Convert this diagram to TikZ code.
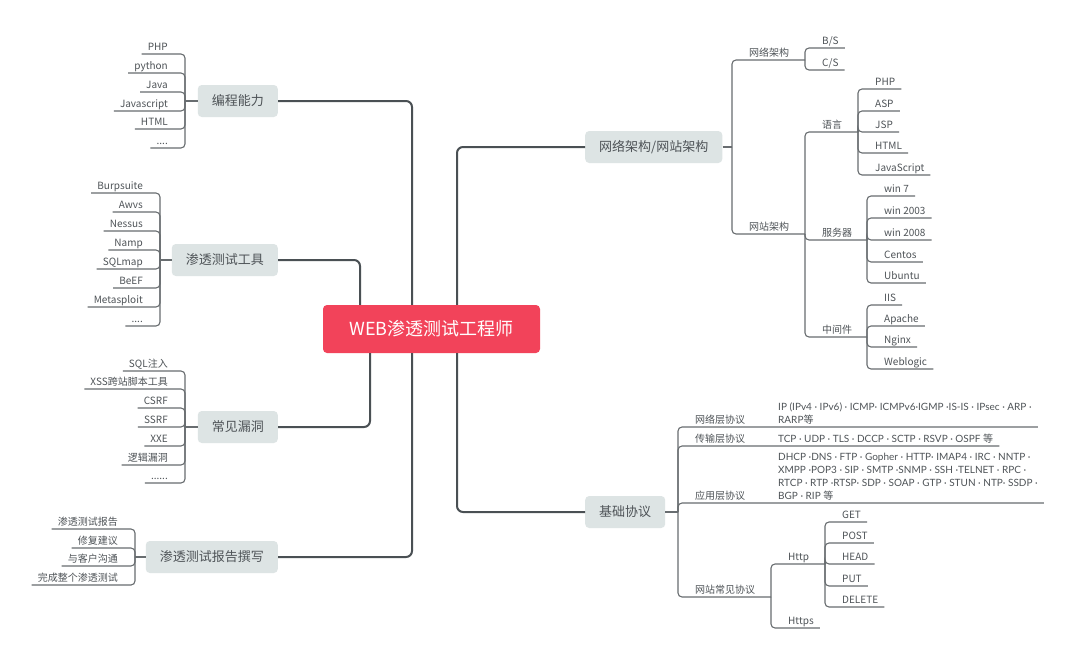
\documentclass[tikz,border=0pt]{standalone}
\usepackage{fontspec}
\setmainfont{Noto Sans CJK SC}
\newfontfamily\latfont{Lato}
\newfontfamily\cjkfont{Noto Sans CJK SC}
\definecolor{trunkgray}{HTML}{4A5054}
\definecolor{twiggray}{HTML}{686D70}
\definecolor{topicfill}{HTML}{DDE4E4}
\definecolor{rootred}{HTML}{F2435A}
\definecolor{inkgray}{HTML}{4E5357}
\newcommand\fourdots{....}
\newcommand\sixdots{......}
\newcommand\deng{{\cjkfont 等}}
\begin{document}
\begin{tikzpicture}[
    x=1pt, y=-1pt,
    trunk/.style={draw=trunkgray, line width=2pt, rounded corners=6pt},
    twig/.style={draw=twiggray, line width=1.1pt, rounded corners=4pt},
    topic/.style={fill=topicfill, rounded corners=4pt, minimum height=32pt,
        inner xsep=14pt, text=inkgray, font=\fontsize{13}{15}\selectfont},
    leafl/.style={anchor=south east, inner xsep=6pt, inner ysep=3pt,
        text depth=0pt, text=inkgray, font=\fontsize{10}{13}\selectfont},
    leafr/.style={leafl, anchor=south west},
    descr/.style={leafr, align=left, font=\latfont\fontsize{10}{13}\selectfont}]
    \fill[white] (0,0) rectangle (1080,670);
    \useasboundingbox (0,0) rectangle (1080,670);

    \node[fill=rootred, rounded corners=4pt, minimum width=217pt,
        minimum height=48pt, text=white,
        font=\fontsize{18}{20}\selectfont] (root) at (431.5,329) {WEB渗透测试工程师};

    % left side
    \node[topic, anchor=east] (code) at (278,101) {编程能力};
    \node[topic, anchor=east] (tools) at (278,260) {渗透测试工具};
    \node[topic, anchor=east] (vuln) at (278,427) {常见漏洞};
    \node[topic, anchor=east] (report) at (278,557) {渗透测试报告撰写};

    \draw[trunk] (code.east) -| ([xshift=-19.5pt]root.north);
    \draw[trunk] (tools.east) -| ([xshift=-71.5pt]root.north);
    \draw[trunk] (vuln.east) -| ([xshift=-61.5pt]root.south);
    \draw[trunk] (report.east) -| ([xshift=-19.5pt]root.south);

    \coordinate (codeJ) at (185,101);
    \draw[twig] (code.west) -- (codeJ);
    \foreach \t/\y [count=\i] in {PHP/54, python/73, Java/92, Javascript/111, HTML/129, \fourdots/148} {
        \node[leafl] (code\i) at (174,\y) {\t};
        \draw[twig] (codeJ) |- (code\i.south west);
    }

    \coordinate (toolsJ) at (160,260);
    \draw[twig] (tools.west) -- (toolsJ);
    \foreach \t/\y [count=\i] in {Burpsuite/193, Awvs/212, Nessus/231, Namp/250,
        SQLmap/269, BeEF/288, Metasploit/307, \fourdots/326} {
        \node[leafl] (tools\i) at (149,\y) {\t};
        \draw[twig] (toolsJ) |- (tools\i.south west);
    }

    \coordinate (vulnJ) at (185,427);
    \draw[twig] (vuln.west) -- (vulnJ);
    \foreach \t/\y [count=\i] in {SQL注入/371, XSS跨站脚本工具/389, CSRF/408, SSRF/427,
        XXE/446, 逻辑漏洞/465, \sixdots/483} {
        \node[leafl] (vuln\i) at (174,\y) {\t};
        \draw[twig] (vulnJ) |- (vuln\i.south west);
    }

    \coordinate (reportJ) at (135,557);
    \draw[twig] (report.west) -- (reportJ);
    \foreach \t/\y [count=\i] in {渗透测试报告/529, 修复建议/548, 与客户沟通/566, 完成整个渗透测试/585} {
        \node[leafl] (report\i) at (124,\y) {\t};
        \draw[twig] (reportJ) |- (report\i.south west);
    }

    % right side
    \node[topic, anchor=west] (arch) at (585,147) {网络架构/网站架构};
    \node[topic, anchor=west] (proto) at (585,512) {基础协议};

    \draw[trunk] (arch.west) -| ([xshift=25.5pt]root.north);
    \draw[trunk] (proto.west) -| ([xshift=25.5pt]root.south);

    \coordinate (archJ) at (732,147);
    \coordinate (netJ) at (805,60);
    \coordinate (siteJ) at (805,234);
    \draw[twig] (arch.east) -- (archJ);
    \node[leafr] (net) at (743,60) {网络架构};
    \node[leafr] (site) at (743,234) {网站架构};
    \draw[twig] (archJ) |- (netJ);
    \draw[twig] (archJ) |- (siteJ);

    \node[leafr] (bs) at (816,48) {B/S};
    \node[leafr] (cs) at (816,70) {C/S};
    \draw[twig] (netJ) |- (bs.south east);
    \draw[twig] (netJ) |- (cs.south east);

    \coordinate (langJ) at (858,132);
    \coordinate (srvJ) at (867,240);
    \coordinate (midJ) at (867,337);
    \node[leafr] (lang) at (816,132) {语言};
    \node[leafr] (srv) at (816,240) {服务器};
    \node[leafr] (mid) at (816,337) {中间件};
    \draw[twig] (siteJ) |- (langJ);
    \draw[twig] (siteJ) |- (srvJ);
    \draw[twig] (siteJ) |- (midJ);

    \foreach \t/\y [count=\i] in {PHP/89, ASP/111, JSP/132, HTML/153, JavaScript/175} {
        \node[leafr] (lang\i) at (869,\y) {\t};
        \draw[twig] (langJ) |- (lang\i.south east);
    }
    \foreach \t/\y [count=\i] in {win 7/196, win 2003/218, win 2008/240, Centos/262, Ubuntu/283} {
        \node[leafr] (srv\i) at (878,\y) {\t};
        \draw[twig] (srvJ) |- (srv\i.south east);
    }
    \foreach \t/\y [count=\i] in {IIS/305, Apache/326, Nginx/347, Weblogic/369} {
        \node[leafr] (mid\i) at (878,\y) {\t};
        \draw[twig] (midJ) |- (mid\i.south east);
    }

    \coordinate (protoJ) at (678,512);
    \draw[twig] (proto.east) -- (protoJ);
    \node[leafr] (netlayer) at (689,427) {网络层协议};
    \node[descr] (netlist) at (772,427) {IP (IPv4 · IPv6) · ICMP· ICMPv6·IGMP ·IS-IS · IPsec · ARP ·\\RARP\deng};
    \node[leafr] (translayer) at (689,446) {传输层协议};
    \node[descr] (translist) at (772,446) {TCP · UDP · TLS · DCCP · SCTP · RSVP · OSPF \deng};
    \node[leafr] (applayer) at (689,503) {应用层协议};
    \node[descr] (applist) at (772,503) {DHCP ·DNS · FTP · Gopher · HTTP· IMAP4 · IRC · NNTP ·\\
        XMPP ·POP3 · SIP · SMTP ·SNMP · SSH ·TELNET · RPC ·\\
        RTCP · RTP ·RTSP· SDP · SOAP · GTP · STUN · NTP· SSDP ·\\BGP · RIP \deng};
    \draw[twig] (protoJ) |- (netlist.south east);
    \draw[twig] (protoJ) |- (translist.south east);
    \draw[twig] (protoJ) |- (applist.south east);

    \coordinate (webJ) at (771,597);
    \coordinate (httpJ) at (825,564);
    \node[leafr] (web) at (689,597) {网站常见协议};
    \draw[twig] (protoJ) |- (webJ);
    \node[leafr] (http) at (782,564) {Http};
    \node[leafr] (https) at (782,628) {Https};
    \draw[twig] (webJ) |- (httpJ);
    \draw[twig] (webJ) |- (https.south east);
    \foreach \t/\y [count=\i] in {GET/522, POST/543, HEAD/564, PUT/586, DELETE/607} {
        \node[leafr] (http\i) at (836,\y) {\t};
        \draw[twig] (httpJ) |- (http\i.south east);
    }
\end{tikzpicture}
\end{document}
